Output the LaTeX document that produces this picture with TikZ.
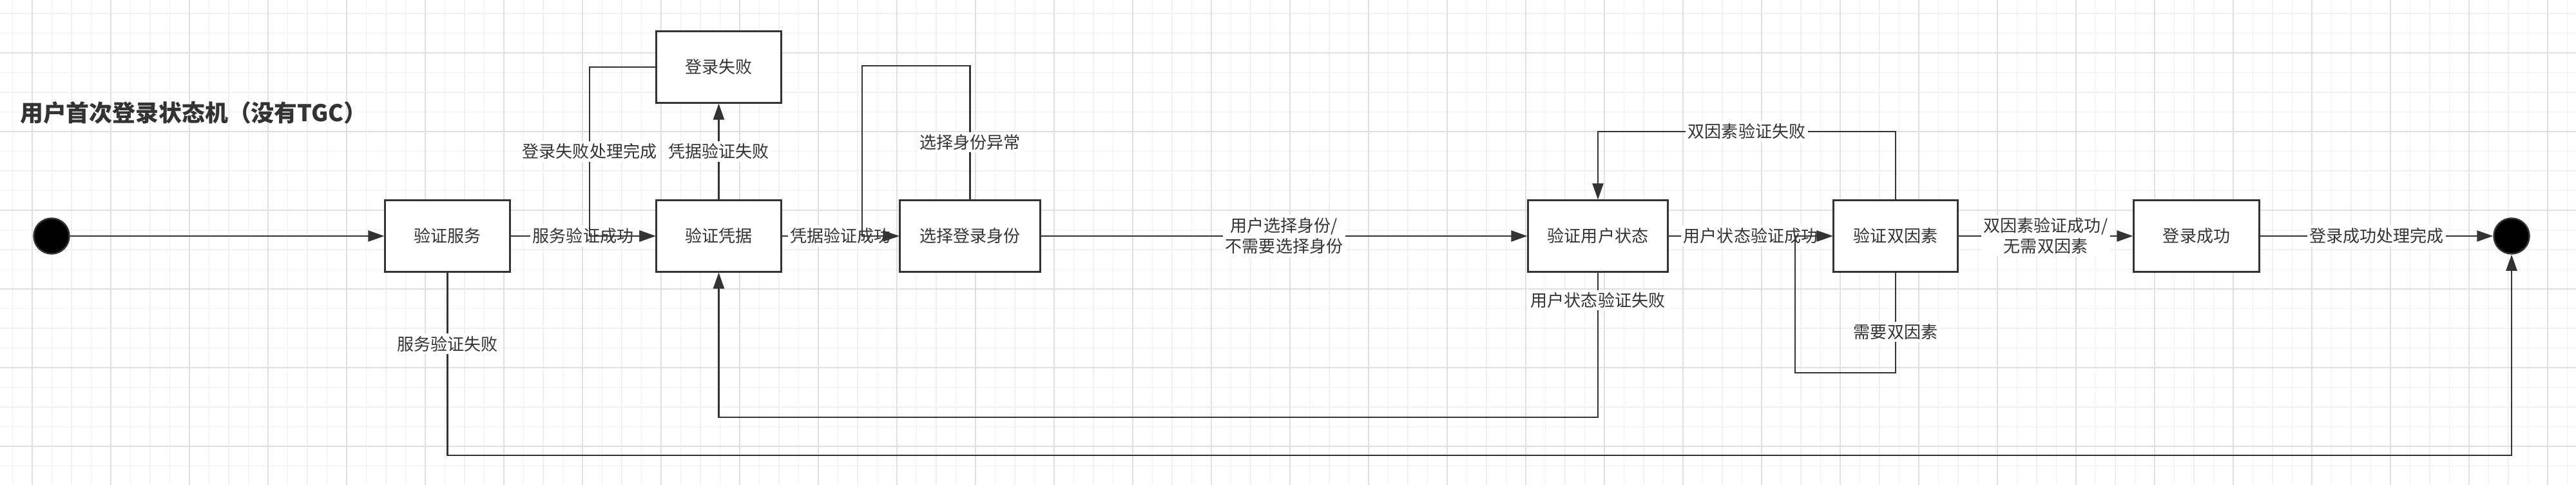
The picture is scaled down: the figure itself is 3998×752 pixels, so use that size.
\documentclass[tikz,border=0pt]{standalone}
\usepackage{fontspec}
\setmainfont{Noto Sans CJK SC}
\usepackage{tikz}
\usetikzlibrary{arrows.meta}
\definecolor{ink}{HTML}{333333}
\definecolor{gmaj}{HTML}{E0E0E0}
\definecolor{gmin}{HTML}{F0F0F0}

\begin{document}
\begin{tikzpicture}[x=0.01cm, y=-0.01cm, >={Triangle[length=0.25cm,width=0.17cm]}, line width=0.7pt, color=ink]
    \tikzstyle{st}=[rectangle, draw=ink, fill=white, line width=0.85pt, minimum width=1.93cm, minimum height=1.1cm, inner sep=0pt, text=ink, font=\fontsize{7.4}{9}\selectfont]
    \tikzstyle{blob}=[circle, draw=ink, fill=black, minimum size=0.55cm, inner sep=0pt]
    \tikzstyle{lbl}=[fill=white, inner sep=1pt, text=ink, align=center, font=\fontsize{7.4}{9.1}\selectfont]

    \useasboundingbox (0,0) rectangle (3998,752);

    % grid
    \foreach \i in {0,...,130} \draw[gmin, line width=0.4pt] ({19.5+30.5*\i},0) -- ({19.5+30.5*\i},752);
    \foreach \i in {0,...,24} \draw[gmin, line width=0.4pt] (0,{21+30.5*\i}) -- (3998,{21+30.5*\i});
    \foreach \i in {0,...,32} \draw[gmaj, line width=0.45pt] ({50+122*\i},0) -- ({50+122*\i},752);
    \foreach \i in {0,...,5} \draw[gmaj, line width=0.45pt] (0,{82+122*\i}) -- (3998,{82+122*\i});

    \node[anchor=west, inner sep=0pt, text=ink, font=\bfseries\fontsize{10.2}{12}\selectfont] (title) at (30,175) {用户首次登录状态机（没有TGC）};

    \node[blob] (start) at (80,366) {};
    \node[st] (svc) at (694.5,366) {验证服务};
    \node[st] (cred) at (1115.5,366) {验证凭据};
    \node[st] (fail) at (1115.5,104) {登录失败};
    \node[st, minimum width=2.17cm] (ident) at (1505.5,366) {选择登录身份};
    \node[st, minimum width=2.16cm] (ustat) at (2480,366) {验证用户状态};
    \node[st, minimum width=1.92cm] (tfa) at (2942,366) {验证双因素};
    \node[st, minimum width=1.94cm] (succ) at (3409,366) {登录成功};
    \node[blob] (fin) at (3898,366) {};

    \draw (start) edge[->] (svc);
    \draw (svc) edge[->] node[lbl] {服务验证成功} (cred);
    \draw[->] (fail.west) -- (915,104) -- node[lbl] {登录失败处理完成} (915,366) -- (cred.west);
    \draw (cred) edge[->] node[lbl] {凭据验证失败} (fail);
    \draw (cred) edge[->] node[lbl] {凭据验证成功} (ident);
    \draw[->] (ident.north) -- node[lbl, pos=0.43] {选择身份异常} (1505.5,102) -- (1338,102) -- (1338,366) -- (ident.west);
    \draw (ident) edge[->] node[lbl] {用户选择身份/\\不需要选择身份} (ustat);
    \draw (ustat) edge[->] node[lbl] {用户状态验证成功} (tfa);
    \draw[->] (ustat.south) -- node[lbl, pos=0.19] {用户状态验证失败} (2480,647) -- (1115.5,647) -- (cred.south);
    \draw[->] (tfa.north) -- (2942,204) -- node[lbl] {双因素验证失败} (2480,204) -- (ustat.north);
    \draw[->] (tfa.south) -- node[lbl, pos=0.59] {需要双因素} (2942,578) -- (2786,578) -- (2786,366) -- (tfa.west);
    \draw (tfa) edge[->] node[lbl] {双因素验证成功/\\无需双因素} (succ);
    \draw (succ) edge[->] node[lbl] {登录成功处理完成} (fin);
    \draw[->] (svc.south) -- node[lbl, pos=0.39] {服务验证失败} (694.5,706) -- (3898,706) -- (fin.south);
\end{tikzpicture}
\end{document}
